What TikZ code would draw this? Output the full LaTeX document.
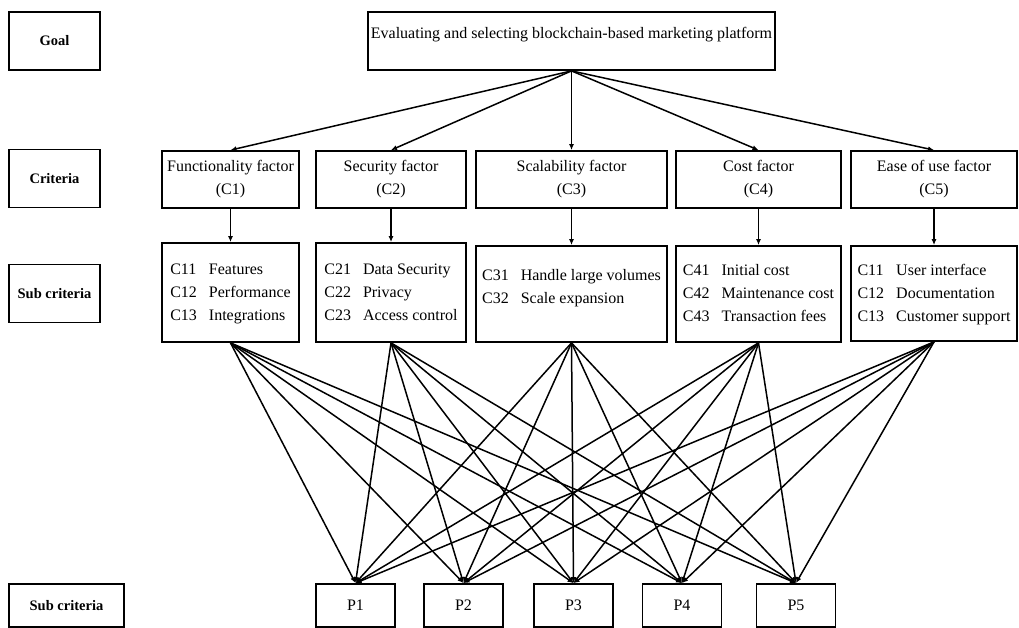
\documentclass[tikz,border=0pt]{standalone}
\usepackage{fontspec}
\setmainfont{Liberation Serif}
\usetikzlibrary{arrows.meta}

\begin{document}
\begin{tikzpicture}[x=1pt,y=-1pt,
  box/.style={draw,line width=1.8pt,inner sep=2pt,align=center,font=\fontsize{16}{23}\selectfont},
  lbl/.style={box,font=\fontsize{14.5}{17}\selectfont\bfseries,minimum width=91pt,minimum height=58pt},
  link/.style={line width=1.5pt,-{Latex[length=6pt,width=5pt]}}]
  \useasboundingbox (0,0) rectangle (1019,628);
  % level labels
  \node[lbl] (lgoal) at (54.5,41) {Goal};
  \node[lbl] (lcrit) at (54.5,178.5) {Criteria};
  \node[lbl] (lsub) at (54.5,293.5) {Sub criteria};
  \node[lbl,minimum width=115pt,minimum height=43pt] (lalt) at (66.5,605.5) {Sub criteria};
  % goal
  \node[box,minimum width=407pt,inner ysep=0pt,text height=27pt,text depth=31pt] (goal) at (571.5,41)
    {Evaluating and selecting blockchain-based marketing platform};
  % criteria
  \node[box,minimum width=137pt,minimum height=57pt] (c1) at (230.5,179.5) {Functionality factor\\(C1)};
  \node[box,minimum width=150pt,minimum height=57pt] (c2) at (391,179.5) {Security factor\\(C2)};
  \node[box,minimum width=191pt,minimum height=57pt] (c3) at (571.5,179.5) {Scalability factor\\(C3)};
  \node[box,minimum width=165pt,minimum height=57pt] (c4) at (758.5,179.5) {Cost factor\\(C4)};
  \node[box,minimum width=166pt,minimum height=57pt] (c5) at (934,179.5) {Ease of use factor\\(C5)};
  % sub criteria
  \node[box,minimum width=137pt,minimum height=99pt] (s1) at (230.5,292.5)
    {\begin{tabular}{@{}l@{\hspace{12pt}}l@{}}C11 & Features\\C12 & Performance\\C13 & Integrations\end{tabular}};
  \node[box,minimum width=150pt,minimum height=99pt] (s2) at (391,292.5)
    {\begin{tabular}{@{}l@{\hspace{12pt}}l@{}}C21 & Data Security\\C22 & Privacy\\C23 & Access control\end{tabular}};
  \node[box,minimum width=191pt,minimum height=96pt] (s3) at (571.5,294)
    {\begin{tabular}{@{}l@{\hspace{12pt}}l@{}}C31 & Handle large volumes\\C32 & Scale expansion\end{tabular}\\[8pt]};
  \node[box,minimum width=165pt,minimum height=96pt] (s4) at (758.5,294)
    {\begin{tabular}{@{}l@{\hspace{12pt}}l@{}}C41 & Initial cost\\C42 & Maintenance cost\\C43 & Transaction fees\end{tabular}};
  \node[box,minimum width=166pt,minimum height=95pt] (s5) at (934,293.5)
    {\begin{tabular}{@{}l@{\hspace{12pt}}l@{}}C11 & User interface\\C12 & Documentation\\C13 & Customer support\end{tabular}};
  % platforms
  \foreach \i/\x in {1/355.5,2/463.5,3/573.5,4/682,5/796}
    \node[box,minimum width=79pt,minimum height=43pt] (p\i) at (\x,605.5) {P\i};
  % connectors
  \foreach \i in {1,...,5}{
    \draw[link] (goal.south) -- (c\i.north);
    \draw[link] (c\i.south) -- (s\i.north);
    \foreach \j in {1,...,5}
      \draw[link] (s\i.south) -- (p\j.north);
  }
\end{tikzpicture}
\end{document}
